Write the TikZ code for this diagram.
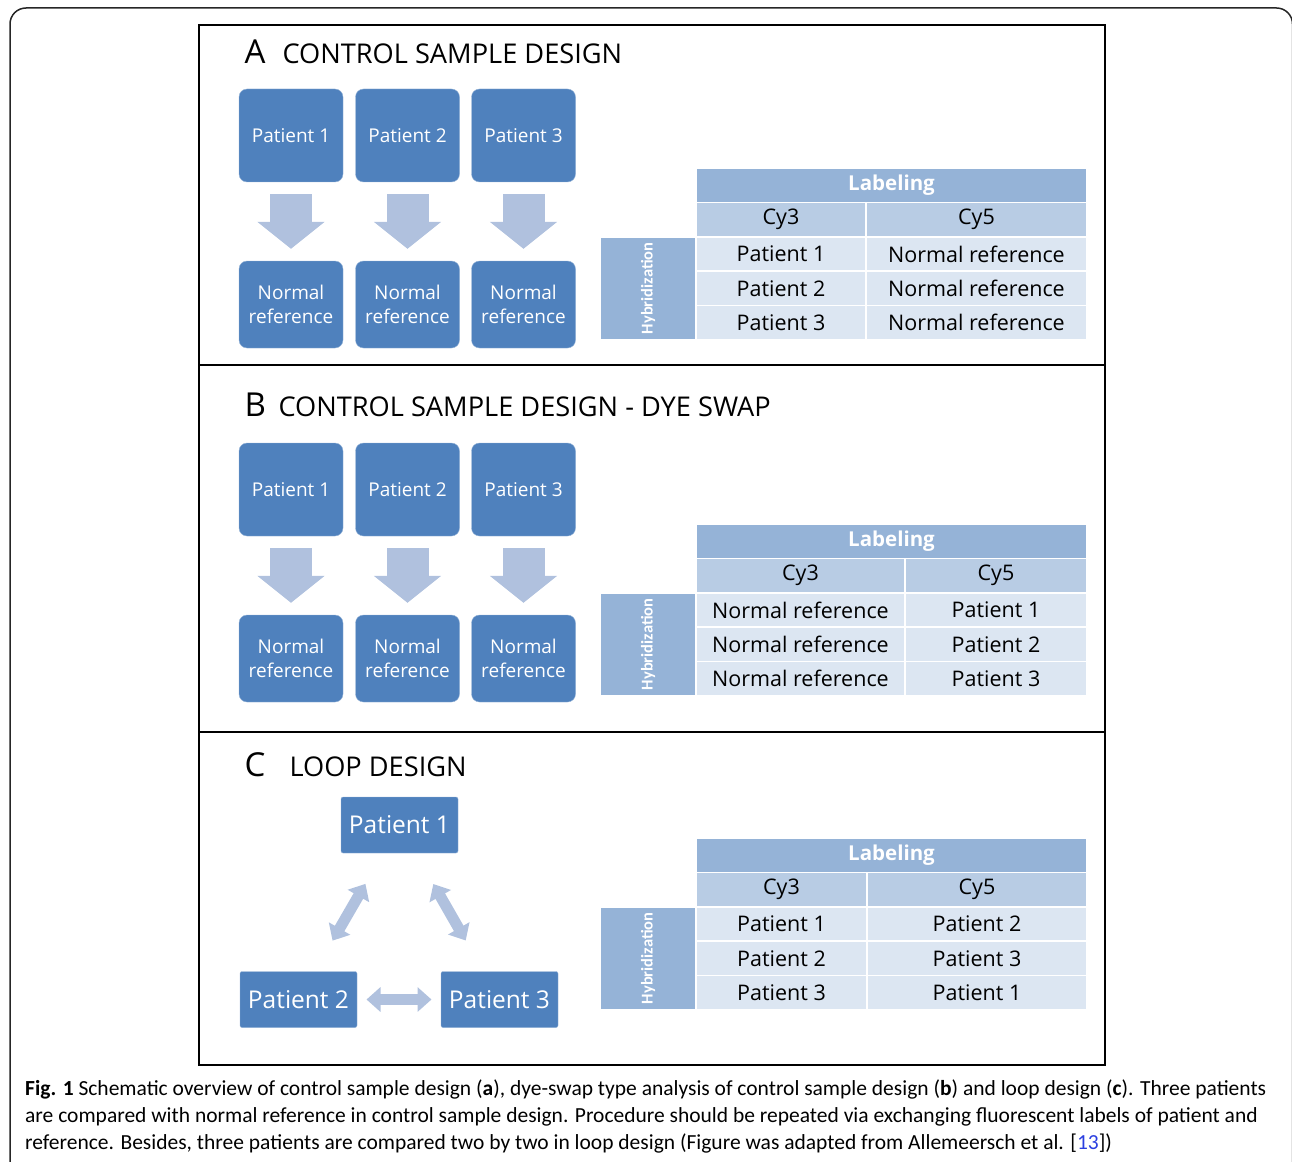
\documentclass[tikz,border=0pt]{standalone}
\usepackage{fontspec}
\setmainfont{Open Sans}
\newfontfamily\capfont{Carlito}
\usetikzlibrary{arrows.meta}

\definecolor{boxblue}{HTML}{4F81BD}
\definecolor{arrowblue}{HTML}{B0C1DE}
\definecolor{headblue}{HTML}{95B3D7}
\definecolor{subblue}{HTML}{B8CCE4}
\definecolor{cellblue}{HTML}{DCE6F2}
\definecolor{citeblue}{HTML}{2B3FE0}

\tikzset{
  pbox/.style={rectangle, rounded corners=8pt, fill=boxblue, draw=boxblue!60!white,
    text=white, align=center, inner sep=0pt, minimum width=104pt,
    font=\fontsize{19}{23.5}\selectfont},
  loopbox/.style={rectangle, rounded corners=2pt, fill=boxblue, draw=boxblue!60!white,
    text=white, inner sep=0pt, minimum width=117pt, minimum height=56pt,
    font=\fontsize{24.5}{28}\selectfont},
  downarrow/.style={draw=arrowblue, line width=42pt,
    -{Triangle[length=27pt,width=66pt]}, shorten <=12pt, shorten >=12pt},
  looparrow/.style={draw=arrowblue, line width=11pt,
    {Triangle[length=14pt,width=24pt]}-{Triangle[length=14pt,width=24pt]},
    shorten <=68pt, shorten >=68pt},
  tcell/.style={rectangle, draw=white, line width=1.5pt, inner sep=0pt,
    minimum height=34.4pt, font=\fontsize{21.5}{24}\selectfont},
  thead/.style={tcell, fill=headblue, text=white, font=\fontsize{20.5}{24}\selectfont\bfseries},
  tsub/.style={tcell, fill=subblue},
  tbody/.style={tcell, fill=cellblue},
  title/.style={anchor=base west, font=\fontsize{27.2}{32}\selectfont},
  bigletter/.style={anchor=base west, font=\fontsize{33}{36}\selectfont}
}

% #1 prefix, #2 top y, #3 column split x, #4 rows a/b,...
\newcommand{\labtable}[4]{%
  \node[thead, minimum width=391pt] (#1lab) at (891.5,{#2+17.2}) {Labeling};
  \node[tsub, minimum width={#3-696}] (#1cy3) at ({(696+#3)/2},{#2+51.6}) {Cy3};
  \node[tsub, minimum width={1087-#3}] (#1cy5) at ({(#3+1087)/2},{#2+51.6}) {Cy5};
  \node[thead, minimum width=95pt, minimum height=103.2pt] (#1hyb)
    at (648,{#2+120.4}) {};
  \node[text=white, rotate=90, font=\capfont\fontsize{16.5}{18}\selectfont\bfseries]
    at (#1hyb) {Hybridization};
  \foreach \a/\b [count=\i] in {#4} {
    \node[tbody, minimum width={#3-696}] (#1l\i)
      at ({(696+#3)/2},{#2+34.4*(\i+1)+17.2}) {\a};
    \node[tbody, minimum width={1087-#3}] (#1r\i)
      at ({(#3+1087)/2},{#2+34.4*(\i+1)+17.2}) {\b};
  }
}

\begin{document}
\begin{tikzpicture}[x=1pt,y=-1pt]
  \useasboundingbox (0,0) rectangle (1292,1161);

  % frames
  \draw[line width=1.5pt, color=black!85, rounded corners=16pt]
    (10,1190) -- (10,8) -- (1292.5,8) -- (1292.5,1190);
  \draw[line width=2.5pt] (199,25) rectangle (1105,1065);
  \draw[line width=2.5pt] (199,365) -- (1105,365);
  \draw[line width=2.5pt] (199,732) -- (1105,732);

  % A
  \node[bigletter] (ta) at (241,64) {A};
  \node[title] (tta) at (279,64) {CONTROL SAMPLE DESIGN};
  \foreach \x [count=\i] in {291,407.5,523.5} {
    \node[pbox, minimum height=93pt] (ap\i) at (\x,135.5) {Patient \i};
    \node[pbox, minimum height=87pt] (an\i) at (\x,304.5) {Normal\\reference};
    \draw[downarrow] (ap\i.south) -- (an\i.north);
  }
  \labtable{a}{168}{866}{Patient 1/Normal reference,Patient 2/Normal reference,Patient 3/Normal reference}

  % B
  \node[bigletter] (tb) at (241,416) {B};
  \node[title] (ttb) at (275,416) {CONTROL SAMPLE DESIGN - DYE SWAP};
  \foreach \x [count=\i] in {291,407.5,523.5} {
    \node[pbox, minimum height=93pt] (bp\i) at (\x,489.5) {Patient \i};
    \node[pbox, minimum height=87pt] (bn\i) at (\x,658.5) {Normal\\reference};
    \draw[downarrow] (bp\i.south) -- (bn\i.north);
  }
  \labtable{b}{524}{905}{Normal reference/Patient 1,Normal reference/Patient 2,Normal reference/Patient 3}

  % C
  \node[bigletter] (tc) at (241,776) {C};
  \node[title] (ttc) at (286,776) {LOOP DESIGN};
  \node[loopbox] (c1) at (399.5,825) {Patient 1};
  \node[loopbox] (c2) at (298.5,999.5) {Patient 2};
  \node[loopbox] (c3) at (499.5,999.5) {Patient 3};
  \draw[looparrow] (c1.center) -- (c2.center);
  \draw[looparrow] (c1.center) -- (c3.center);
  \draw[looparrow] (c2.center) -- (c3.center);
  \labtable{c}{838}{867}{Patient 1/Patient 2,Patient 2/Patient 3,Patient 3/Patient 1}

  % caption
  \node[anchor=north west, align=left, inner sep=0pt,
    font=\capfont\fontsize{21.5}{27}\selectfont] (cap) at (25,1080)
    {\textbf{Fig. 1} Schematic overview of control sample design (\textbf{a}), dye-swap type analysis of control sample design (\textbf{b}) and loop design (\textbf{c}). Three patients\\
     are compared with normal reference in control sample design. Procedure should be repeated via exchanging fluorescent labels of patient and\\
     reference. Besides, three patients are compared two by two in loop design (Figure was adapted from Allemeersch et al. [\textcolor{citeblue}{13}])};
\end{tikzpicture}
\end{document}
